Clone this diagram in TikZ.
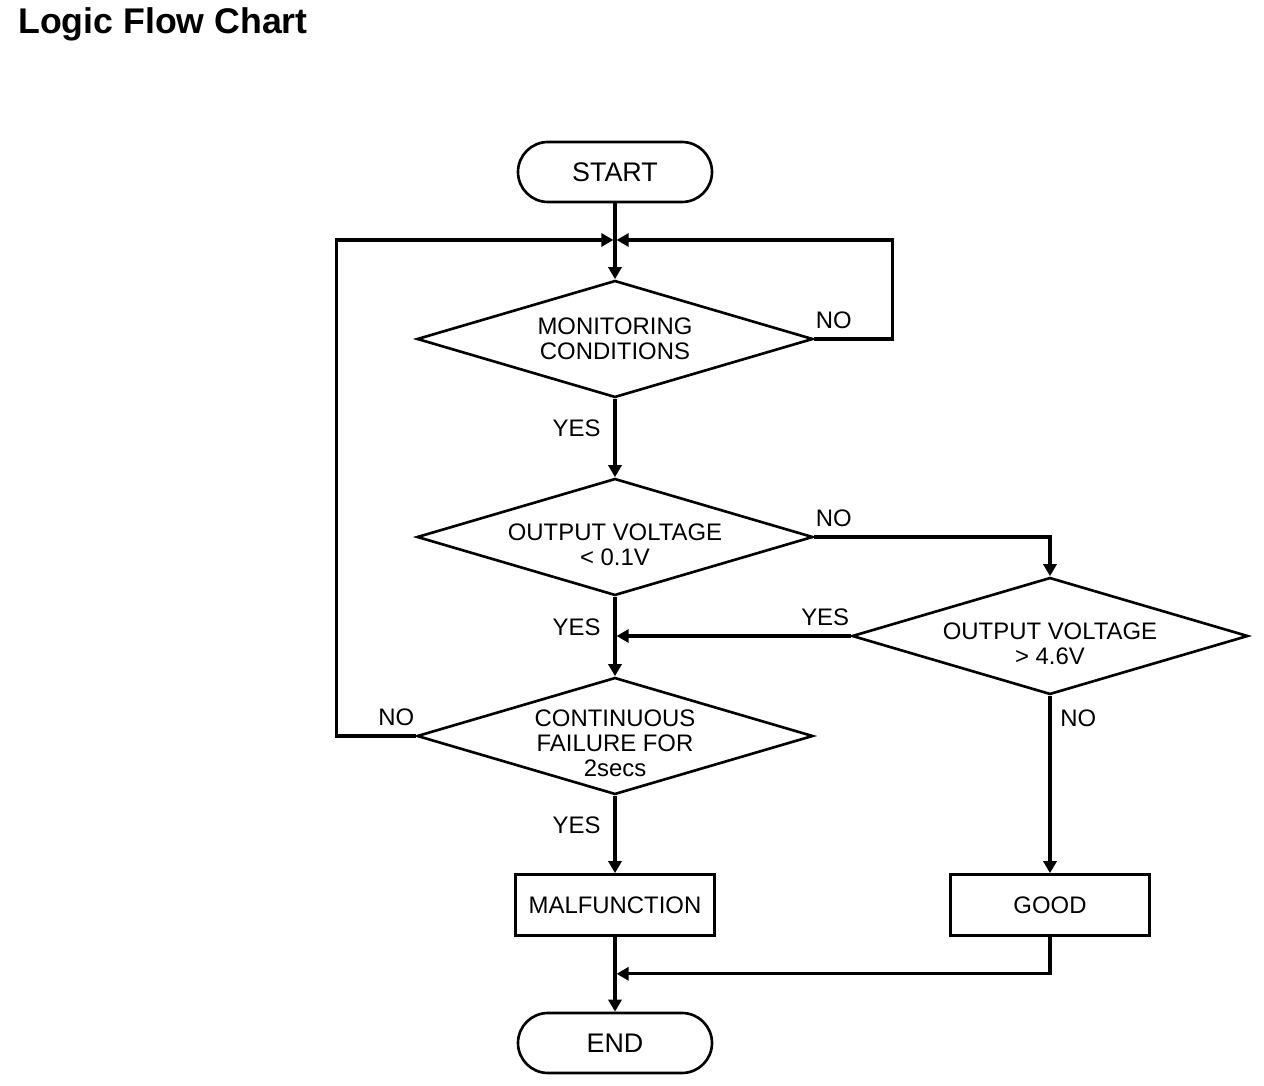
\documentclass[tikz,border=0pt]{standalone}
\usepackage{fontspec}
\setmainfont{Liberation Sans}
\usetikzlibrary{
  arrows.meta,
  positioning,
  shapes.geometric
}
% text of a decision, set a little below the middle
\newcommand{\lowtext}[1]{%
  \raisebox{-9.6pt}[0pt][0pt]{\begin{tabular}{@{}c@{}}#1\end{tabular}}}
\tikzset{
  node distance=2cm,
  on grid,
  >={Triangle[length=2.4mm,width=2.6mm]},
  every node/.style={font=\fontsize{13.6}{14.2}\selectfont},
  % styles
  flow/.style={
    line width=1.8pt,
  },
  terminal/.style={
    rectangle,
    rounded corners=6mm,
    draw,
    line width=1.5pt,
    minimum width=3.88cm,
    minimum height=1.2cm,
    font=\fontsize{15.3}{16}\selectfont,
  },
  decision/.style={
    diamond,
    draw,
    line width=1.5pt,
    aspect=3.38,
    inner sep=0pt,
    minimum width=7.92cm,
    minimum height=2.34cm,
    align=center,
  },
  process/.style={
    rectangle,
    draw,
    line width=1.5pt,
    minimum width=3.98cm,
    minimum height=1.22cm,
  },
  yes tag/.style={left,xshift=-1.4mm,pos=0.38},
  side tag/.style={inner xsep=0pt,yshift=0.6mm},
}

\begin{document}
\begin{tikzpicture}
  \useasboundingbox (0,0) rectangle (25.28,-21.72);
  \node [anchor=base west,inner sep=0pt,font=\bfseries\fontsize{20.3}{24}\selectfont]
    (title) at (0.36,-0.68) {Logic Flow Chart};

  % steps
  \node [terminal] (start) at (12.3,-3.44)                      {START};
  \coordinate [below=1.36cm of start] (join);
  \node [decision] (mon)   [below=3.34cm of start]              {MONITORING\\CONDITIONS};
  \node [decision] (low)   [below=3.96cm of mon]                {\lowtext{OUTPUT VOLTAGE\\< 0.1V}};
  \node [decision] (high)  [below right=1.98cm and 8.7cm of low]{\lowtext{OUTPUT VOLTAGE\\> 4.6V}};
  \node [decision] (fail)  [below=3.98cm of low]                {\lowtext{CONTINUOUS\\FAILURE FOR\\2secs}};
  \node [process]  (malf)  [below=3.38cm of fail]               {MALFUNCTION};
  \node [process]  (good)  [below=5.38cm of high]               {GOOD};
  \node [terminal] (end)   [below=2.76cm of malf]               {END};
  \coordinate (merge1) at (high.west -| low.south);
  \coordinate [below=0.74cm of good.south] (gout);
  \coordinate (merge2) at (gout -| malf.south);

  % connectors
  \draw [flow,->] (start) -- (mon);
  \draw [flow,->] (mon) -- node [yes tag] {YES} (low);
  \draw [flow,->,shorten >=0.9pt] (mon.east) node [side tag,above right] {NO}
    -- ++(1.56,0) |- (join);
  \draw [flow,->] (low.east) node [side tag,above right] {NO} -| (high.north);
  \draw [flow,->,shorten >=0.9pt] (high.west) node [side tag,above left] {YES} -- (merge1);
  \draw [flow,->] (low) -- node [yes tag] {YES} (fail);
  \draw [flow,->,shorten >=0.9pt] (fail.west) node [side tag,above left] {NO}
    -- ++(-1.58,0) |- (join);
  \draw [flow,->] (fail) -- node [yes tag] {YES} (malf);
  \draw [flow,->] (high.south) node [below right,xshift=0.6mm,yshift=-1.4mm] {NO} -- (good);
  \draw [flow,->,shorten >=0.9pt] (good) |- (merge2);
  \draw [flow,->] (malf) -- (end);
\end{tikzpicture}
\end{document}
